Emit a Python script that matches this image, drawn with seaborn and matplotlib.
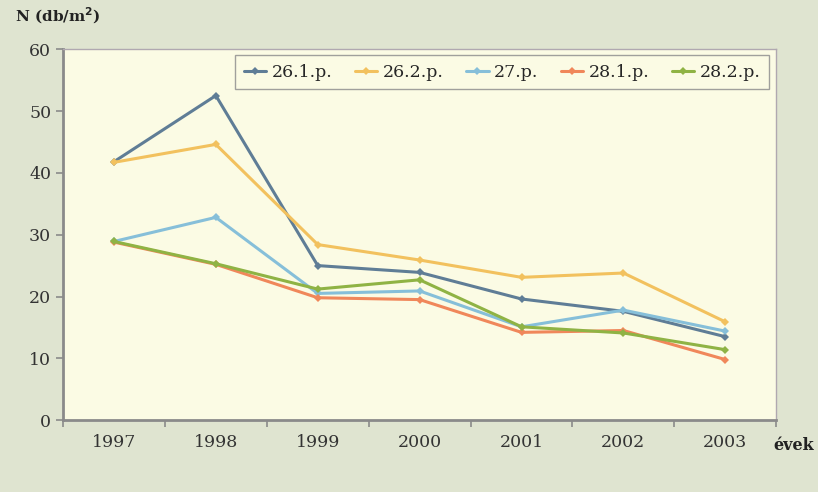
import pandas as pd
import matplotlib.pyplot as plt
import seaborn as sns
from matplotlib.ticker import FixedLocator

# Values
years = ["1997", "1998", "1999", "2000", "2001", "2002", "2003"]
p26_1 = [41.8, 52.5, 25.0, 23.9, 19.6, 17.6, 13.5]
p26_2 = [41.7, 44.6, 28.4, 25.9, 23.1, 23.8, 15.9]
p27 = [28.9, 32.8, 20.5, 20.9, 15.1, 17.8, 14.4]
p28_1 = [28.8, 25.2, 19.8, 19.5, 14.2, 14.5, 9.8]
p28_2 = [28.9, 25.3, 21.2, 22.7, 15.1, 14.1, 11.4]
series_names = ["26.1.p.", "26.2.p.", "27.p.", "28.1.p.", "28.2.p."]
colors = ["#5f7d96", "#f2c15e", "#86bfd9", "#f0875a", "#8fb344"]

rows = []
for name, vals in zip(series_names, [p26_1, p26_2, p27, p28_1, p28_2]):
    for yr, v in zip(years, vals):
        rows.append({"ev": yr, "N": v, "parcella": name})
df = pd.DataFrame(rows)

sns.set_style("white")
plt.rcParams['font.family'] = ['DejaVu Serif']

fig = plt.figure(figsize=(8.18, 4.92), dpi=100)
fig.patch.set_facecolor("#dfe4d0")
ax = fig.add_axes([0.077, 0.146, 0.872, 0.754])
ax.set_facecolor("#fbfbe4")

sns.lineplot(data=df, x="ev", y="N", hue="parcella", palette=colors,
             marker="D", markersize=4, markeredgewidth=0, linewidth=2.2,
             sort=False, ax=ax)

ax.set_xlim(-0.5, 6.5)
ax.set_ylim(0, 60)
ax.set_yticks(range(0, 61, 10))
ax.xaxis.set_minor_locator(FixedLocator([i - 0.5 for i in range(8)]))
ax.tick_params(axis="x", which="major", length=0, pad=10, labelsize=12.5, colors="#333333")
ax.tick_params(axis="x", which="minor", length=5, width=1.2, color="#8a8a8a", bottom=True)
ax.tick_params(axis="y", length=5, width=1.2, color="#8a8a8a", left=True, labelsize=12.5,
               labelcolor="#333333")
ax.set_xlabel("")
ax.set_ylabel("")

for side in ["left", "bottom"]:
    ax.spines[side].set_color("#8a8a8a")
    ax.spines[side].set_linewidth(2)
for side in ["top", "right"]:
    ax.spines[side].set_color("#b0a8b0")
    ax.spines[side].set_linewidth(1)

leg = ax.legend(title=None, ncol=5, loc="upper right", bbox_to_anchor=(0.99, 0.984),
                borderaxespad=0, fontsize=12.5, frameon=True, fancybox=False,
                handlelength=1.3, handletextpad=0.3, columnspacing=1.3, borderpad=0.5)
leg.get_frame().set_edgecolor("#8a8a8a")
leg.get_frame().set_facecolor("#fbfbe4")
leg.get_frame().set_linewidth(1)

fig.text(0.018, 0.955, "N (db/m$^\\mathbf{2}$)", fontsize=11, fontweight="bold", color="#222222")
fig.text(0.946, 0.085, "évek", fontsize=11.5, fontweight="bold", color="#222222")

fig.savefig("out.png", dpi=100, facecolor=fig.get_facecolor())
